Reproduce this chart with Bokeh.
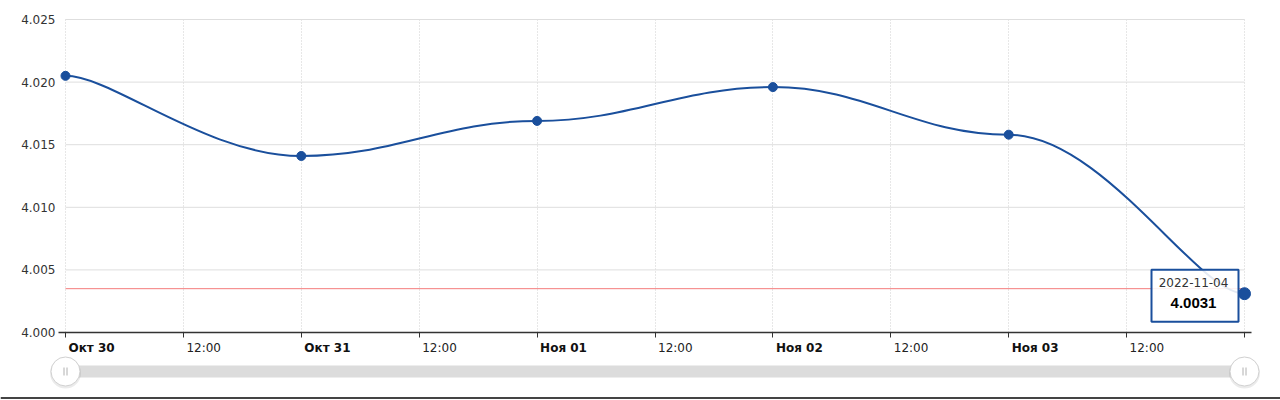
from datetime import datetime, timezone

from bokeh.plotting import figure
from bokeh.models import Range1d, FixedTicker
from bokeh.core.properties import value
from bokeh.embed import file_html
from bokeh.resources import INLINE

# ---------------- data ----------------
dates = ["2022-10-30", "2022-10-31", "2022-11-01", "2022-11-02", "2022-11-03", "2022-11-04"]
rates = [4.0205, 4.0141, 4.0169, 4.0196, 4.0158, 4.0031]
ref_level = 4.0035
y_ticks = [4.000, 4.005, 4.010, 4.015, 4.020, 4.025]
y_tick_labels = ["4.000", "4.005", "4.010", "4.015", "4.020", "4.025"]
x_tick_labels = ["Окт 30", "12:00", "Окт 31", "12:00", "Ноя 01", "12:00",
                 "Ноя 02", "12:00", "Ноя 03", "12:00"]
x_tick_bold = [True, False, True, False, True, False, True, False, True, False]
tooltip_date = "2022-11-04"
tooltip_value = "4.0031"

# ---------------- helpers ----------------
def to_ms(s):
    return datetime.strptime(s, "%Y-%m-%d").replace(tzinfo=timezone.utc).timestamp() * 1000.0

xs = [to_ms(d) for d in dates]
T0, T1 = xs[0], xs[-1]
HALF_DAY = 12 * 3600 * 1000.0
tick_ms = [T0 + i * HALF_DAY for i in range(11)]

PAGE_W = 1280
PLOT_L = 65              # pixel x of the first tick
PLOT_TOP = 19            # pixel y of 4.025
PLOT_W = 1179.0          # pixel width of the data area
PLOT_H = 313.0
PX_MS = (T1 - T0) / PLOT_W
PX_Y = (y_ticks[-1] - y_ticks[0]) / PLOT_H
E = 7                    # extra frame pixels so end markers are not clipped

BLUE = "#1a4f9c"
FONT = "DejaVu Sans"


def tension_controls(px, py, tension_x=0.8, tension_y=1.0):
    """Cubic control points of a tension-smoothed line (flat at the knots in y)."""
    ax = 1 - tension_x + 0.00001
    ay = 1 - tension_y + 0.00001
    n = len(px)
    cax, cay, cbx, cby = [], [], [], []
    for i in range(n - 1):
        i0 = i - 1 if i > 0 else i
        i3 = i + 2 if i < n - 2 else i + 1
        cax.append(px[i] + ax * (px[i + 1] - px[i0]))
        cay.append(py[i] + ay * (py[i + 1] - py[i0]))
        cbx.append(px[i + 1] - ax * (px[i3] - px[i]))
        cby.append(py[i + 1] - ay * (py[i3] - py[i]))
    return cax, cay, cbx, cby


cax, cay, cbx, cby = tension_controls(xs, rates)

# ---------------- main chart ----------------
MAIN_BORDER_BOTTOM = 8
p = figure(
    frame_width=int(PLOT_W + 2 * E), frame_height=int(PLOT_H + 1),
    min_border_left=PLOT_L - E,
    min_border_right=int(PAGE_W - (PLOT_L - E) - (PLOT_W + 2 * E)),
    min_border_top=PLOT_TOP - 1, min_border_bottom=MAIN_BORDER_BOTTOM,
    x_range=Range1d(T0 - E * PX_MS, T1 + E * PX_MS),
    y_range=Range1d(y_ticks[0], y_ticks[-1] + PX_Y),
    x_axis_type="datetime",
    output_backend="svg", toolbar_location=None,
    background_fill_color="white", border_fill_color="white",
)
p.outline_line_color = None

# x axis (ticks only, labels drawn in strip below)
xa = p.xaxis[0]
xa.ticker = FixedTicker(ticks=tick_ms)
xa.major_label_overrides = {t: "" for t in tick_ms}
xa.major_label_text_font_size = "1px"
xa.major_label_standoff = 0
xa.major_tick_in = 0
xa.major_tick_out = 5
xa.minor_tick_line_color = None
xa.axis_line_color = "#333333"
xa.axis_line_width = 1.5
xa.major_tick_line_color = "#333333"

# y axis
ya = p.yaxis[0]
ya.ticker = FixedTicker(ticks=y_ticks)
ya.major_label_overrides = {t: l for t, l in zip(y_ticks, y_tick_labels)}
ya.axis_line_color = None
ya.major_tick_line_color = None
ya.minor_tick_line_color = None
ya.major_tick_in = 0
ya.major_tick_out = 0
ya.major_label_standoff = 3
ya.major_label_text_font = FONT
ya.major_label_text_font_size = "12px"
ya.major_label_text_color = "#333333"

p.xgrid.ticker = FixedTicker(ticks=tick_ms)
p.xgrid.grid_line_color = "#cfcfcf"
p.xgrid.grid_line_dash = "1 2"
p.ygrid.visible = False

# horizontal grid lines only across the data area
p.segment(x0=[T0] * len(y_ticks), x1=[T1] * len(y_ticks), y0=y_ticks, y1=y_ticks,
          line_color="#dedede", line_width=1)

# reference level
p.segment(x0=[T0], x1=[T1], y0=[ref_level], y1=[ref_level],
          line_color="#f47c7c", line_width=1)

# smooth line
p.bezier(
    x0=xs[:-1], y0=rates[:-1], x1=xs[1:], y1=rates[1:],
    cx0=cax, cy0=cay, cx1=cbx, cy1=cby,
    line_color=BLUE, line_width=2,
)
p.scatter(xs[:-1], rates[:-1], size=9, fill_color=BLUE, line_color=BLUE)

# tooltip
p.rect(x=[T1 - 49.5 * PX_MS], y=[rates[-1] - 2 * PX_Y], width=87, height=52,
       width_units="screen", height_units="screen",
       fill_color="white", fill_alpha=0.88, line_color=BLUE, line_width=2)
p.scatter([xs[-1]], [rates[-1]], size=12, fill_color=BLUE, line_color=BLUE)
p.text(x=[T1], y=[rates[-1]], text=[tooltip_date], x_offset=-51, y_offset=-11,
       text_align="center", text_baseline="middle",
       text_font=value(FONT), text_font_size="12px", text_color="#333333")
p.text(x=[T1], y=[rates[-1]], text=[tooltip_value], x_offset=-51, y_offset=9,
       text_align="center", text_baseline="middle",
       text_font=value("Liberation Sans"), text_font_size="15px",
       text_font_style="bold", text_color="#000000")

# ---------------- labels + navigator strip ----------------
MAIN_BOTTOM = PLOT_TOP + PLOT_H + MAIN_BORDER_BOTTOM   # pixel y where main figure ends
NAV_H = 400 - int(MAIN_BOTTOM)
nav = figure(
    width=PAGE_W, height=NAV_H,
    min_border_left=0, min_border_right=0, min_border_top=0, min_border_bottom=0,
    x_range=Range1d(T0 - PLOT_L * PX_MS, T0 + (PAGE_W - PLOT_L) * PX_MS),
    y_range=Range1d(0, NAV_H),
    x_axis_location=None, y_axis_location=None,
    output_backend="svg", toolbar_location=None,
    background_fill_color="white", border_fill_color="white",
)
nav.outline_line_color = None
nav.grid.visible = False


def row_y(page_y):
    return NAV_H - (page_y - MAIN_BOTTOM)


LABEL_Y = row_y(347)
bold_x = [t for t, b in zip(tick_ms, x_tick_bold) if b]
bold_t = [l for l, b in zip(x_tick_labels, x_tick_bold) if b]
norm_x = [t for t, b in zip(tick_ms, x_tick_bold) if not b]
norm_t = [l for l, b in zip(x_tick_labels, x_tick_bold) if not b]
nav.text(x=bold_x, y=[LABEL_Y] * len(bold_x), text=bold_t, x_offset=3,
         text_align="left", text_baseline="middle",
         text_font=value(FONT), text_font_size="12px", text_font_style="bold",
         text_color="#111111")
nav.text(x=norm_x, y=[LABEL_Y] * len(norm_x), text=norm_t, x_offset=3,
         text_align="left", text_baseline="middle",
         text_font=value(FONT), text_font_size="12px", text_color="#222222")

BAR_Y = row_y(371)
nav.quad(left=[T0], right=[T1], bottom=[BAR_Y - 6], top=[BAR_Y + 6],
         fill_color="#dcdcdc", line_color=None)
# handles (shadow + circle + grip)
nav.scatter([T0, T1], [BAR_Y - 1.5] * 2, size=31, fill_color="#000000",
            fill_alpha=0.08, line_color=None)
nav.scatter([T0, T1], [BAR_Y] * 2, size=29, fill_color="white",
            line_color="#d0d0d0", line_width=1)
for dx in (-1.5, 1.5):
    nav.segment(x0=[T0 + dx * PX_MS, T1 + dx * PX_MS], x1=[T0 + dx * PX_MS, T1 + dx * PX_MS],
                y0=[BAR_Y - 4] * 2, y1=[BAR_Y + 4] * 2, line_color="#b0b0b0", line_width=1)

# bottom page rule
RULE_Y = row_y(397.5)
nav.segment(x0=[nav.x_range.start], x1=[nav.x_range.end], y0=[RULE_Y], y1=[RULE_Y],
            line_color="#444444", line_width=2)

open("out.html", "w").write(file_html([p, nav], INLINE))
